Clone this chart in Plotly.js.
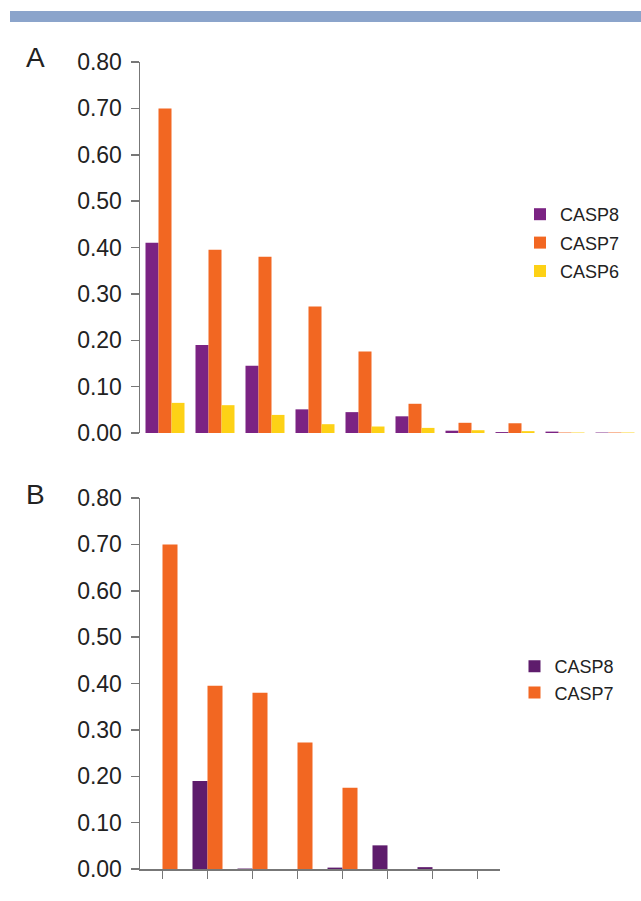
<!DOCTYPE html>
<html>
<head>
<meta charset="utf-8">
<script src="https://cdn.plot.ly/plotly-3.0.1.min.js"></script>
<style>
  html, body { margin: 0; padding: 0; background: #ffffff; }
  #chart { width: 641px; height: 901px; }
</style>
</head>
<body>
<div id="chart"></div>
<script>
// ---- Data ----
var categoriesA = ['1', '2', '3', '4', '5', '6', '7', '8', '9', '10'];
var casp8A = [0.41, 0.19, 0.145, 0.051, 0.045, 0.036, 0.005, 0.002, 0.003, 0.001];
var casp7A = [0.70, 0.395, 0.38, 0.273, 0.176, 0.063, 0.022, 0.021, 0.001, 0.001];
var casp6A = [0.065, 0.06, 0.039, 0.019, 0.014, 0.011, 0.006, 0.004, 0.001, 0.001];

var categoriesB = ['1', '2', '3', '4', '5', '6', '7', '8'];
var casp8B = [0, 0.19, 0.001, 0, 0.003, 0.051, 0.004, 0];
var casp7B = [0.70, 0.395, 0.38, 0.273, 0.175, 0, 0, 0];

var yTickVals = [0, 0.1, 0.2, 0.3, 0.4, 0.5, 0.6, 0.7, 0.8];
var yTickText = ['0.00', '0.10', '0.20', '0.30', '0.40', '0.50', '0.60', '0.70', '0.80'];

// ---- Styles ----
var FONT = 'Liberation Sans, Arial, Helvetica, sans-serif';
var PURPLE_A = '#7b2383';
var PURPLE_B = '#5e1c6c';
var ORANGE = '#f26722';
var YELLOW = '#fdd116';
var AXIS = '#777777';
var W = 641, H = 901;
function px(x) { return x / W; }
function py(y) { return (H - y) / H; }

var wA = 0.26, wB = 1 / 3;

var traces = [
  { type: 'bar', name: 'CASP8', x: categoriesA, y: casp8A, xaxis: 'x', yaxis: 'y',
    width: wA, offset: -1.5 * wA, marker: { color: PURPLE_A, line: { width: 0 } },
    legend: 'legend', legendgroup: 'a8', hoverinfo: 'x+y' },
  { type: 'bar', name: 'CASP7', x: categoriesA, y: casp7A, xaxis: 'x', yaxis: 'y',
    width: wA, offset: -0.5 * wA, marker: { color: ORANGE, line: { width: 0 } },
    legend: 'legend', legendgroup: 'a7', hoverinfo: 'x+y' },
  { type: 'bar', name: 'CASP6', x: categoriesA, y: casp6A, xaxis: 'x', yaxis: 'y',
    width: wA, offset: 0.5 * wA, marker: { color: YELLOW, line: { width: 0 } },
    legend: 'legend', legendgroup: 'a6', hoverinfo: 'x+y' },
  { type: 'bar', name: 'CASP8', x: categoriesB, y: casp8B, xaxis: 'x2', yaxis: 'y2',
    width: wB, offset: -wB, marker: { color: PURPLE_B, line: { width: 0 } },
    legend: 'legend2', legendgroup: 'b', hoverinfo: 'x+y' },
  { type: 'bar', name: 'CASP7', x: categoriesB, y: casp7B, xaxis: 'x2', yaxis: 'y2',
    width: wB, offset: 0, marker: { color: ORANGE, line: { width: 0 } },
    legend: 'legend2', legendgroup: 'b', hoverinfo: 'x+y' }
];

var yAxisCommon = {
  range: [0, 0.8], tickvals: yTickVals, ticktext: yTickText,
  showline: true, linecolor: AXIS, linewidth: 1.5,
  ticks: 'outside', ticklen: 8, tickwidth: 1.5, tickcolor: AXIS,
  ticklabelstandoff: 4,
  showgrid: false, zeroline: false,
  tickfont: { family: FONT, size: 23, color: '#222222' }
};

var layout = {
  width: W, height: H,
  margin: { l: 0, r: 0, t: 0, b: 0, autoexpand: false },
  paper_bgcolor: '#ffffff', plot_bgcolor: 'rgba(0,0,0,0)',
  showlegend: true,
  barmode: 'group',
  font: { family: FONT, color: '#222222' },
  xaxis: {
    type: 'category', range: [-0.5, 9.5], domain: [px(140), px(640)],
    anchor: 'y', visible: false, fixedrange: true
  },
  yaxis: Object.assign({}, yAxisCommon, { domain: [py(433), py(62)], anchor: 'x' }),
  xaxis2: {
    type: 'category', range: [-0.5, 7.5], domain: [px(140), px(500)],
    anchor: 'y2', showline: true, linecolor: AXIS, linewidth: 1.5,
    ticks: 'outside', ticklen: 8, tickwidth: 1.5, tickcolor: AXIS,
    showticklabels: false, showgrid: false, zeroline: false
  },
  yaxis2: Object.assign({}, yAxisCommon, { domain: [py(869), py(498)], anchor: 'x2' }),
  legend: {
    x: px(520), y: py(196), xanchor: 'left', yanchor: 'top',
    bgcolor: 'rgba(0,0,0,0)', borderwidth: 0, tracegroupgap: 2,
    font: { family: FONT, size: 18, color: '#222222' }
  },
  legend2: {
    x: px(514.5), y: py(648), xanchor: 'left', yanchor: 'top',
    bgcolor: 'rgba(0,0,0,0)', borderwidth: 0, tracegroupgap: 0,
    font: { family: FONT, size: 18, color: '#222222' }
  },
  shapes: [
    { type: 'rect', xref: 'paper', yref: 'paper', x0: px(10), x1: 1, y0: py(22), y1: py(11),
      fillcolor: '#8ba4cb', line: { width: 0 } }
  ],
  annotations: [
    { text: 'A', xref: 'paper', yref: 'paper', x: px(35), y: py(58), xanchor: 'center', yanchor: 'middle',
      showarrow: false, font: { family: FONT, size: 28, color: '#222222' } },
    { text: 'B', xref: 'paper', yref: 'paper', x: px(35), y: py(494), xanchor: 'center', yanchor: 'middle',
      showarrow: false, font: { family: FONT, size: 28, color: '#222222' } }
  ]
};

Plotly.newPlot('chart', traces, layout, { displayModeBar: false, staticPlot: true });
</script>
</body>
</html>
